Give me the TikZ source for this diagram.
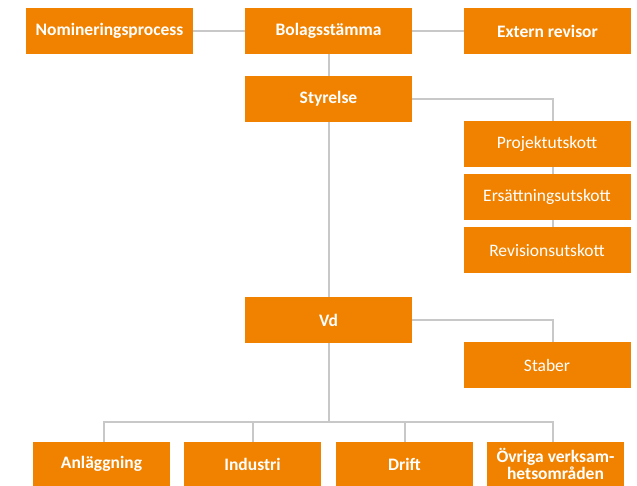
\documentclass[tikz,border=0pt]{standalone}
\usepackage{fontspec}
\setmainfont{Carlito}
\usetikzlibrary{backgrounds}
\definecolor{orgorange}{RGB}{240,130,0}
\definecolor{orgline}{RGB}{200,200,200}
\tikzset{unit/.style={fill=orgorange, text=white, minimum width=167pt, minimum height=46pt,
                      inner sep=0pt, font=\fontsize{17.5}{16.5}\selectfont\bfseries},
         subunit/.style={unit, font=\fontsize{17.5}{16.5}\selectfont},
         branch/.style={unit, minimum width=137pt, minimum height=44pt},
         link/.style={draw=orgline, line width=2pt}}

\begin{document}
\begin{tikzpicture}[x=1pt, y=-1pt]
                \useasboundingbox (0,0) rectangle (637,485);

                \node[unit] (nom) at (109.5, 31) {Nomineringsprocess};
                \node[unit] (bol) at (328.5, 31) {Bolagsstämma};
                \node[unit] (ext) at (547.5, 31) {Extern revisor};

                \node[unit] (sty) at (328.5, 99) {Styrelse};

                \node[subunit] (proj) at (547, 144) {Projektutskott};
                \node[subunit] (ers) at (547, 197) {Ersättningsutskott};
                \node[subunit] (rev) at (547, 250) {Revisionsutskott};

                \node[unit] (vd) at (328.5, 320) {Vd};
                \node[subunit] (stab) at (547, 365) {Staber};

                \node[branch] (anl) at (101.5, 464) {Anläggning};
                \node[branch] (ind) at (252.5, 464) {Industri};
                \node[branch] (dri) at (404.5, 464) {Drift};
                \node[branch, align=center] (ovr) at (555.5, 464) {Övriga verksam-\\hetsområden};

                \coordinate (utsk) at (553, 250);
                \coordinate (stabtop) at (553, 342);
                \coordinate (bus) at (328.5, 422);

                \begin{scope}[on background layer]
                \draw[link] (nom) -- (bol);
                \draw[link] (bol) -- (ext);
                \draw[link] (bol) -- (sty);
                \draw[link] (sty.east) -| (utsk);
                \draw[link] (sty) -- (vd);
                \draw[link] (vd.east) -| (stabtop);
                \draw[link] (vd) -- (bus);

                \draw[link] (bus) -| ([xshift=2.5pt]anl.north);
                \draw[link] (bus) -| (ind.north);
                \draw[link] (bus) -| (dri.north);
                \draw[link] (bus) -| ([xshift=-2.5pt]ovr.north);
                \end{scope}
\end{tikzpicture}
\end{document}
